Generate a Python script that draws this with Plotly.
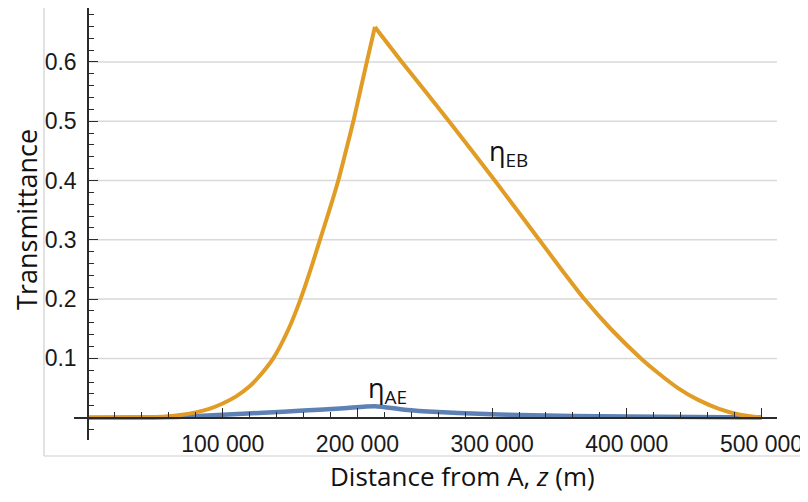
import plotly.graph_objects as go

# ---- data ----
# eta_EB: rising branch and falling branch (sharp corner at the peak)
z_eb_rise = [0, 20000, 40000, 50000, 60000, 70000, 80000, 90000, 100000, 110000, 120000,
             128000, 137500, 149000, 157800, 165300, 172200, 179200, 185800, 191500,
             197000, 202000, 207000, 213000]
eta_eb_rise = [0, 0.0001, 0.0004, 0.001, 0.0025, 0.005, 0.009, 0.015, 0.024, 0.036, 0.053,
               0.072, 0.1, 0.15, 0.2, 0.25, 0.3, 0.35, 0.4, 0.45,
               0.5, 0.55, 0.6, 0.659]
z_eb_fall = [213000, 233000, 268000, 302000, 335000, 351500, 368500, 388000, 410500,
             423500, 438000, 453000, 468500, 484000, 500000]
eta_eb_fall = [0.659, 0.6, 0.5, 0.4, 0.3, 0.25, 0.2, 0.15, 0.1,
               0.075, 0.05, 0.03, 0.015, 0.005, 0.0]

z_ae = [0, 50000, 70000, 100000, 130000, 160000, 190000, 213000, 235000, 260000,
        290000, 320000, 360000, 400000, 450000, 500000]
eta_ae = [0, 0.0005, 0.0015, 0.005, 0.0085, 0.012, 0.016, 0.0195, 0.0135, 0.0095,
          0.0065, 0.0045, 0.003, 0.002, 0.001, 0.0003]

x_tickvals = [100000, 200000, 300000, 400000, 500000]
x_ticktext = ["100 000", "200 000", "300 000", "400 000", "500 000"]
x_minor = [20000, 40000, 60000, 80000, 120000, 140000, 160000, 180000,
           220000, 240000, 260000, 280000, 320000, 340000, 360000, 380000,
           420000, 440000, 460000, 480000]
y_tickvals = [0.1, 0.2, 0.3, 0.4, 0.5, 0.6]
y_ticktext = ["0.1", "0.2", "0.3", "0.4", "0.5", "0.6"]
y_minor = [-0.02, 0.02, 0.04, 0.06, 0.08, 0.12, 0.14, 0.16, 0.18, 0.22, 0.24, 0.26, 0.28,
           0.32, 0.34, 0.36, 0.38, 0.42, 0.44, 0.46, 0.48, 0.52, 0.54, 0.56, 0.58,
           0.62, 0.64, 0.66, 0.68]

ORANGE = "#E09C24"
BLUE = "#5E81B5"
AXIS = "#2b2b2b"
GRID = "#d9d9d9"

# the page body has an 8px margin, so the figure is sized 800x494
X_RANGE = [-10394, 511500]
Y_RANGE = [-0.0376, 0.6909]

fig = go.Figure()
fig.add_trace(go.Scatter(x=z_ae, y=eta_ae, mode="lines",
                         line=dict(color=BLUE, width=4.5, shape="spline", smoothing=0.6),
                         showlegend=False))
fig.add_trace(go.Scatter(x=z_eb_rise, y=eta_eb_rise, mode="lines",
                         line=dict(color=ORANGE, width=4, shape="spline", smoothing=0.8),
                         showlegend=False))
fig.add_trace(go.Scatter(x=z_eb_fall, y=eta_eb_fall, mode="lines",
                         line=dict(color=ORANGE, width=4, shape="spline", smoothing=0.8),
                         showlegend=False))

ypos = (0 - Y_RANGE[0]) / (Y_RANGE[1] - Y_RANGE[0])
xpos = (0 - X_RANGE[0]) / (X_RANGE[1] - X_RANGE[0])

tickfont = dict(family="Liberation Sans, Arial", size=23, color="#1a1a1a")

fig.update_layout(
    width=800, height=494,
    margin=dict(l=66, r=31, t=0, b=62, autoexpand=False),
    paper_bgcolor="white", plot_bgcolor="white",
    xaxis=dict(range=X_RANGE, anchor="free", position=ypos, automargin=False,
               showline=True, linecolor=AXIS, linewidth=1.5,
               showgrid=False, zeroline=False,
               tickmode="array", tickvals=x_tickvals, ticktext=x_ticktext,
               ticks="inside", ticklen=9, tickwidth=1.3, tickcolor=AXIS,
               tickfont=tickfont, ticklabelstandoff=6,
               minor=dict(tickmode="array", tickvals=x_minor, ticks="inside",
                          ticklen=5, tickwidth=1.2, tickcolor=AXIS, showgrid=False)),
    yaxis=dict(range=Y_RANGE, anchor="free", position=xpos, automargin=False,
               showline=True, linecolor=AXIS, linewidth=1.5,
               showgrid=False, zeroline=False,
               tickmode="array", tickvals=y_tickvals, ticktext=y_ticktext,
               ticks="inside", ticklen=9, tickwidth=1.3, tickcolor=AXIS,
               tickfont=tickfont, ticklabelstandoff=6,
               minor=dict(tickmode="array", tickvals=y_minor, ticks="inside",
                          ticklen=5, tickwidth=1.2, tickcolor=AXIS, showgrid=False)),
)

# horizontal grid lines starting at the y axis
for v in y_tickvals:
    fig.add_shape(type="line", xref="x", yref="y", x0=0, x1=X_RANGE[1], y0=v, y1=v,
                  line=dict(color=GRID, width=1.5), layer="below")

# light frame around the picture
FRAME = "#cfcfcf"
fl, fr, fb, ft = -0.0427, 1.0427, -0.037, 1.03
fig.add_shape(type="line", xref="paper", yref="paper", x0=fl, x1=fl, y0=fb, y1=ft,
              line=dict(color=FRAME, width=1.2))
fig.add_shape(type="line", xref="paper", yref="paper", x0=fl, x1=fr, y0=fb, y1=fb,
              line=dict(color=FRAME, width=1.2))
fig.add_shape(type="line", xref="paper", yref="paper", x0=fr, x1=fr, y0=fb, y1=0.0278,
              line=dict(color=FRAME, width=1.2))
fig.add_shape(type="line", xref="paper", yref="paper", x0=fr, x1=fr, y0=0.0972, y1=ft,
              line=dict(color=FRAME, width=1.2))

titlefont = dict(family="Open Sans", color="#111111")
fig.add_annotation(text="Distance from A, <i>z</i> (m)", xref="paper", yref="paper",
                   x=0.5533, y=-0.0833, xanchor="center", yanchor="middle",
                   showarrow=False, font=dict(size=26, **titlefont))
fig.add_annotation(text="Transmittance", xref="paper", yref="paper",
                   x=-0.0669, y=0.5116, xanchor="center", yanchor="middle",
                   textangle=-90, showarrow=False, font=dict(size=27, **titlefont))

lab = "η<sub>{}</sub>"
fig.add_annotation(text=lab.format("EB"), xref="x", yref="y", x=312500, y=0.448,
                   xanchor="center", yanchor="middle", showarrow=False,
                   font=dict(size=27, **titlefont))
fig.add_annotation(text=lab.format("AE"), xref="x", yref="y", x=222700, y=0.048,
                   xanchor="center", yanchor="middle", showarrow=False,
                   font=dict(size=27, **titlefont))

fig.write_html("out.html")
